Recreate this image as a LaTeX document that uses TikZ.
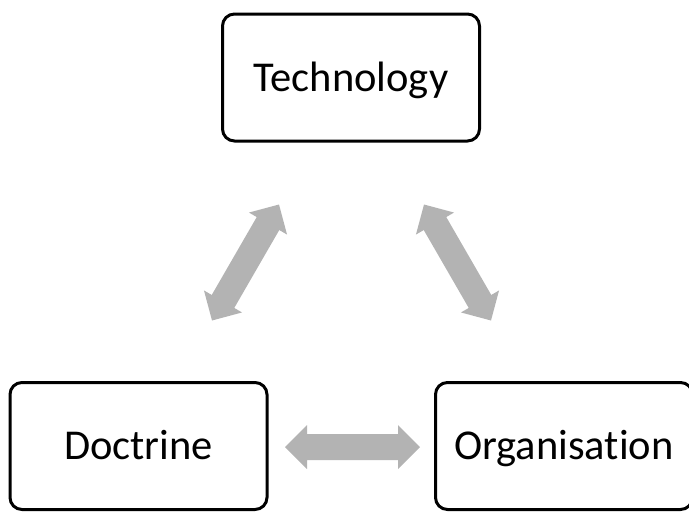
\documentclass[tikz,border=0pt]{standalone}
\usepackage{fontspec}
\setmainfont{Carlito}[Ligatures=NoCommon]
\usetikzlibrary{calc}
\definecolor{arrowgray}{RGB}{179,179,179}
\newcommand\ahl{22pt}
\newcommand\ahw{22pt}
\newcommand\asw{13pt}
\newcommand\twoway[2]{%
\fill[arrowfill] (#1)
 -- ($(#1)!\ahl!(#2)!\ahw!90:(#2)$)
 -- ($(#1)!\ahl!(#2)!\asw!90:(#2)$)
 -- ($(#2)!\ahl!(#1)!\asw!-90:(#1)$)
 -- ($(#2)!\ahl!(#1)!\ahw!-90:(#1)$)
 -- (#2)
 -- ($(#2)!\ahl!(#1)!\ahw!90:(#1)$)
 -- ($(#2)!\ahl!(#1)!\asw!90:(#1)$)
 -- ($(#1)!\ahl!(#2)!\asw!-90:(#2)$)
 -- ($(#1)!\ahl!(#2)!\ahw!-90:(#2)$)
 -- cycle;}
\tikzset{
  box/.style={draw=black, line width=3pt, rounded corners=12pt, fill=white,
    minimum width=257pt, minimum height=127pt, inner sep=0pt,
    text height=27pt, text depth=0pt,
    font=\fontsize{42.5}{50}\selectfont},
  arrowfill/.style={fill=arrowgray}
}
\begin{document}
\begin{tikzpicture}[x=1pt,y=1pt]
\useasboundingbox (0,0) rectangle (689,-512);
\begin{scope}
\clip (0,0) rectangle (689,-512);
\node[box] (tech) at (351,-77.5) {Technology};
\node[box] (doc) at (138.5,-446) {Doctrine};
\node[box] (org) at (564,-446) {Organisation};
\end{scope}
\coordinate (tl) at (279,-204.5);
\coordinate (dl) at (212,-320.5);
\coordinate (tr) at (424,-204.5);
\coordinate (or) at (491,-320.5);
\coordinate (dh) at (285,-447);
\coordinate (oh) at (420,-447);
\twoway{dl}{tl}
\twoway{tr}{or}
\twoway{dh}{oh}
\end{tikzpicture}
\end{document}
